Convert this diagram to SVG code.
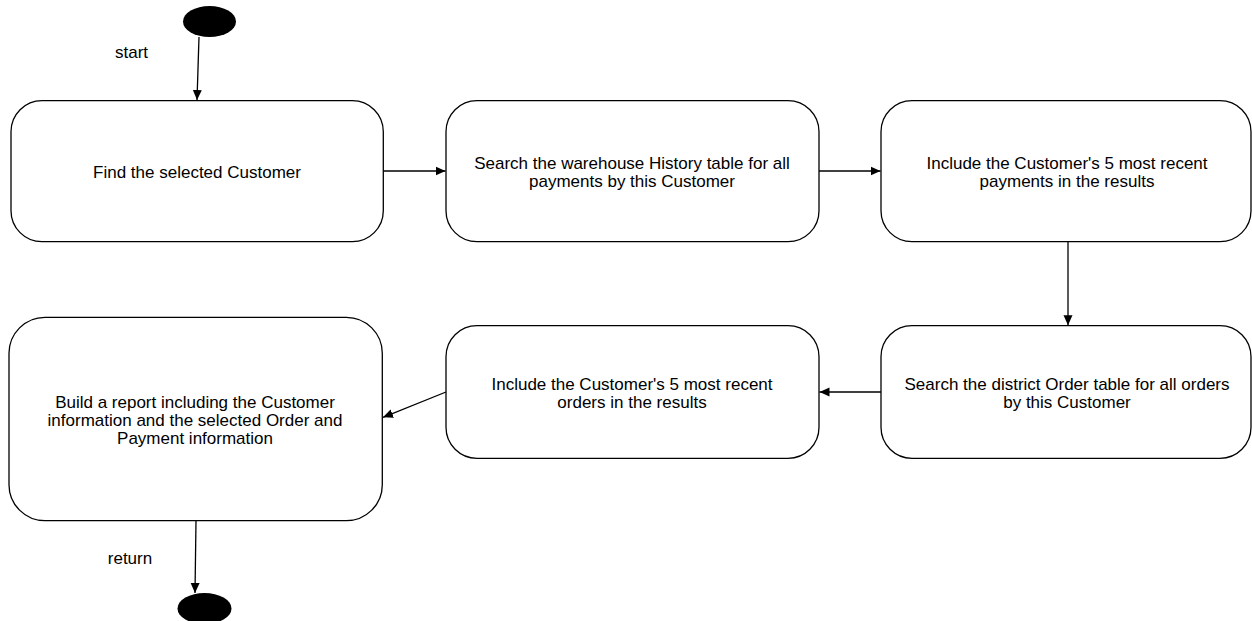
<svg xmlns="http://www.w3.org/2000/svg" width="1252" height="621" viewBox="0 0 1252 621">
<style>
.box{fill:#fff;stroke:#000;stroke-width:1.3}
.t{font-family:"Liberation Sans",Arial,sans-serif;font-size:17px;fill:#000;text-anchor:middle}
.c{stroke:#000;stroke-width:1.3;fill:none;marker-end:url(#ah)}
.dot{fill:#000}
</style>
<defs>
<marker id="ah" markerUnits="userSpaceOnUse" markerWidth="11" markerHeight="10" refX="10" refY="5" orient="auto">
<path d="M0,0.5 L10,5 L0,9.5 z" fill="#000"/>
</marker>
</defs>
<rect width="1252" height="621" fill="#fff"/>
<g id="start">
<ellipse class="dot" cx="209.5" cy="21.5" rx="26.5" ry="15.5"/>
</g>
<g id="end">
<ellipse class="dot" cx="204.5" cy="608.5" rx="27" ry="15.5"/>
</g>
<g id="n1">
<rect class="box" x="11" y="100.7" width="372.3" height="141" rx="31" ry="31"/>
<text class="t" x="197" y="178">Find the selected Customer</text>
</g>
<g id="n2">
<rect class="box" x="446" y="100.7" width="373" height="141" rx="31" ry="31"/>
<text class="t" x="632" y="169">Search the warehouse History table for all</text>
<text class="t" x="632" y="187">payments by this Customer</text>
</g>
<g id="n3">
<rect class="box" x="881" y="100.7" width="370" height="141" rx="31" ry="31"/>
<text class="t" x="1067" y="169">Include the Customer's 5 most recent</text>
<text class="t" x="1067" y="187">payments in the results</text>
</g>
<g id="n4">
<rect class="box" x="881" y="325.7" width="370" height="132.6" rx="31" ry="31"/>
<text class="t" x="1067" y="390">Search the district Order table for all orders</text>
<text class="t" x="1067" y="408">by this Customer</text>
</g>
<g id="n5">
<rect class="box" x="446" y="325.7" width="373" height="132.6" rx="31" ry="31"/>
<text class="t" x="632" y="390">Include the Customer's 5 most recent</text>
<text class="t" x="632" y="408">orders in the results</text>
</g>
<g id="n6">
<rect class="box" x="9" y="317.3" width="373.3" height="203.4" rx="36" ry="36"/>
<text class="t" x="195" y="408">Build a report including the Customer</text>
<text class="t" x="195" y="426">information and the selected Order and</text>
<text class="t" x="195" y="444">Payment information</text>
</g>
<g id="labels">
<text class="t" x="131.5" y="58">start</text>
<text class="t" x="130" y="564">return</text>
</g>
<g id="connectors">
<line class="c" x1="199" y1="37" x2="197" y2="100"/>
<line class="c" x1="383.3" y1="171" x2="445.5" y2="171"/>
<line class="c" x1="819" y1="171" x2="880.5" y2="171"/>
<line class="c" x1="1068" y1="241.7" x2="1068" y2="325.2"/>
<line class="c" x1="881" y1="392" x2="819.5" y2="392"/>
<line class="c" x1="446" y1="392" x2="383" y2="417.3"/>
<line class="c" x1="196" y1="520.7" x2="195" y2="593"/>
</g>
</svg>
